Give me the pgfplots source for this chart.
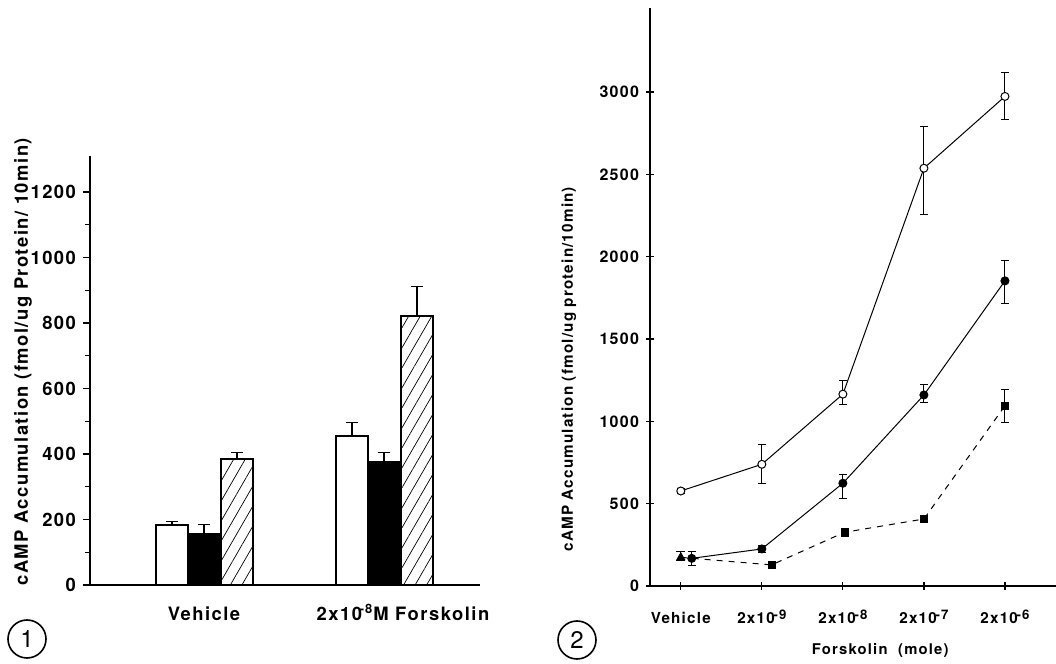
\documentclass[border=0pt]{standalone}
\usepackage{fontspec}
\setmainfont{TeX Gyre Heros}[LetterSpace=8]
\usepackage{pgfplots}
\pgfplotsset{compat=1.18}
\usetikzlibrary{patterns.meta}
\newcommand{\ex}[1]{\kern-0.08em\raisebox{0.55ex}{\fontsize{6.6}{7}\selectfont #1}}

\begin{document}
\begin{tikzpicture}
\useasboundingbox (0,0) rectangle (528pt,332pt);

% ---------- panel 1: bars ----------
\begin{axis}[
  at={(45pt,39.5pt)}, anchor=south west,
  scale only axis, width=195pt, height=214.5pt,
  xmin=0, xmax=390, ymin=0, ymax=1310,
  axis lines*=left, axis line style={line width=1pt},
  ytick={0,200,...,1200}, minor ytick={100,300,...,1100},
  tick align=outside, major tick length=3.5pt, minor tick length=2.5pt,
  tick style={line width=0.6pt, black},
  xtick={114,313},
  xticklabels={Vehicle, 2x10\kern-0.12em\textsuperscript{-8}M Forskolin},
  x tick style={draw=none},
  xticklabel style={anchor=base, yshift=-14.5pt},
  /pgf/number format/assume math mode=true,
  /pgf/number format/1000 sep={},
  ticklabel style={font=\fontsize{9.2}{10}\selectfont\bfseries},
  ylabel={cAMP Accumulation (fmol/ug Protein/ 10min)},
  ylabel style={at={(rel axis cs:-0.172,0.52)}, anchor=center, font=\fontsize{9.2}{10}\selectfont\bfseries},
  clip=false,
]
\addplot[ybar, bar width=32, bar shift=0pt, fill=white, draw=black, line width=1pt,
  error bars/.cd, y dir=plus, y explicit, error bar style={line width=0.6pt},
  error mark options={line width=0.6pt, mark size=2.8pt, rotate=90}]
  coordinates {(82,183) +- (0,10) (262,456) +- (0,41)};
\addplot[ybar, bar width=32, bar shift=0pt, fill=black, draw=black, line width=1pt,
  error bars/.cd, y dir=plus, y explicit, error bar style={line width=0.6pt},
  error mark options={line width=0.6pt, mark size=2.8pt, rotate=90}]
  coordinates {(114,155) +- (0,30) (294,377) +- (0,27)};
\addplot[ybar, bar width=32, bar shift=0pt, fill=white, draw=black, line width=1pt,
  postaction={pattern={Lines[angle=60,distance=5pt,line width=0.35pt]}},
  error bars/.cd, y dir=plus, y explicit, error bar style={line width=0.6pt},
  error mark options={line width=0.6pt, mark size=2.8pt, rotate=90}]
  coordinates {(147,384) +- (0,20) (327,822) +- (0,89)};
\end{axis}

% ---------- panel 2: dose response ----------
\begin{axis}[
  at={(325pt,39pt)}, anchor=south west,
  scale only axis, width=203pt, height=289pt,
  xmin=-0.38, xmax=4.63, ymin=0, ymax=3510,
  axis lines*=left, axis line style={line width=0.9pt},
  xtick={0,1,2,3,4},
  xticklabels={Vehicle, 2x10\ex{-9}, 2x10\ex{-8}, 2x10\ex{-7}, 2x10\ex{-6}},
  ytick={0,500,...,3000},
  tick align=center, major tick length=4pt,
  tick style={line width=0.6pt, black},
  xticklabel style={anchor=base, yshift=-17pt, font=\fontsize{7.6}{8}\selectfont\bfseries},
  yticklabel style={font=\fontsize{8}{9}\selectfont\bfseries},
  /pgf/number format/assume math mode=true,
  /pgf/number format/1000 sep={},
  xlabel={Forskolin\ \ (mole)},
  xlabel style={at={(rel axis cs:0.567,0)}, anchor=base, yshift=-34.5pt, font=\fontsize{7.4}{8}\selectfont\bfseries},
  ylabel={cAMP Accumulation (fmol/ug protein/10min)},
  ylabel style={at={(rel axis cs:-0.2,0.375)}, anchor=center, font=\fontsize{7.6}{8}\selectfont\bfseries},
  clip=false,
]
% dashed series (line)
\addplot[black, line width=0.5pt, dashed, no marks]
  coordinates {(0,174) (1.12,128) (2.02,326) (3,407) (4,1094)};
% dashed series squares
\addplot[black, only marks, mark=square*, mark size=1.8pt,
  error bars/.cd, y dir=both, y explicit, error bar style={line width=0.5pt}]
  coordinates {(1.12,128) (2.02,326) +- (0,22) (3,407) (4,1094) += (0,97) -= (0,100)};
% dashed series vehicle triangle
\addplot[black, only marks, mark=triangle*, mark size=2.3pt,
  error bars/.cd, y dir=both, y explicit, error bar style={line width=0.5pt}]
  coordinates {(0,174) += (0,34) -= (0,20)};
% filled circles
\addplot[black, line width=0.5pt, mark=*, mark size=2pt,
  error bars/.cd, y dir=both, y explicit, error bar style={line width=0.5pt}]
  coordinates {(0.135,168) +- (0,40) (1,225) +- (0,20) (2,624) += (0,56) -= (0,91)
               (3,1160) += (0,67) -= (0,46) (4,1853) += (0,123) -= (0,136)};
% open circles
\addplot[black, line width=0.5pt, mark=*, mark size=2pt, mark options={fill=white},
  error bars/.cd, y dir=both, y explicit, error bar style={line width=0.5pt}]
  coordinates {(0,577) +- (0,15) (1,739) += (0,118) -= (0,119) (2,1165) += (0,86) -= (0,65)
               (3,2537) += (0,253) -= (0,283) (4,2973) += (0,147) -= (0,138)};
\end{axis}

\node[draw, circle, line width=0.8pt, minimum size=19pt, inner sep=0pt,
      font=\fontsize{12}{12}\selectfont] at (13.5pt,12.5pt) {1};
\node[draw, circle, line width=0.8pt, minimum size=19pt, inner sep=0pt,
      font=\fontsize{12}{12}\selectfont] at (288.5pt,12pt) {2};
\end{tikzpicture}
\end{document}
